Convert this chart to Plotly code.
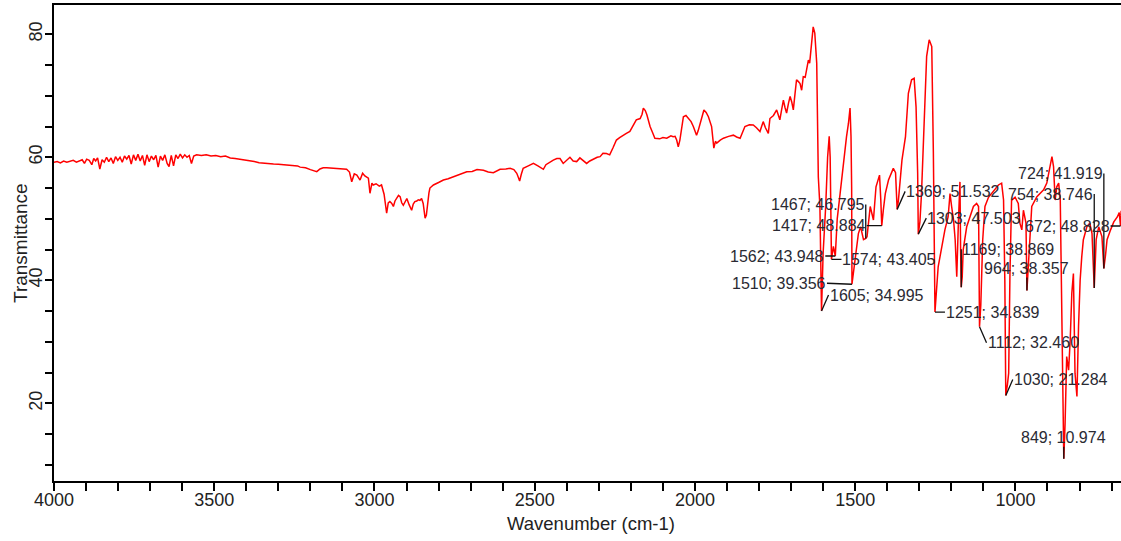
import plotly.graph_objects as go

# ---------------- data ----------------
wavenumber = [
    4000, 3990, 3980, 3970, 3960, 3950, 3940, 3930, 3920, 3912, 3905, 3898, 3890, 3882, 3876, 3870,
    3864, 3857, 3850, 3843, 3836, 3829, 3822, 3815, 3808, 3801, 3794, 3787, 3780, 3773, 3766, 3759,
    3752, 3745, 3738, 3731, 3724, 3717, 3710, 3703, 3696, 3689, 3682, 3675, 3668, 3661, 3654, 3647,
    3641, 3634, 3627, 3620, 3613, 3606, 3599, 3592, 3585, 3578, 3571, 3564, 3555, 3540, 3525, 3510,
    3495, 3480, 3465, 3450, 3435, 3420, 3405, 3390, 3375, 3360, 3345, 3330, 3315, 3300, 3285, 3270,
    3255, 3240, 3232, 3215, 3200, 3190, 3180, 3170, 3160, 3149, 3130, 3110, 3087, 3078, 3071, 3063,
    3055, 3045, 3037, 3030, 3019, 3014, 3008, 3004, 2995, 2985, 2978, 2970, 2962, 2957, 2952, 2946,
    2941, 2936, 2931, 2925, 2920, 2915, 2910, 2905, 2899, 2892, 2884, 2879, 2874, 2868, 2863, 2858,
    2853, 2848, 2842, 2838, 2834, 2830, 2827, 2816, 2800, 2785, 2770, 2754, 2740, 2725, 2712, 2695,
    2680, 2660, 2645, 2629, 2615, 2608, 2590, 2577, 2565, 2556, 2550, 2547, 2542, 2536, 2520, 2504,
    2490, 2478, 2473, 2465, 2452, 2442, 2431, 2421, 2411, 2400, 2390, 2380, 2369, 2359, 2348, 2338,
    2328, 2318, 2305, 2296, 2287, 2276, 2266, 2256, 2245, 2235, 2224, 2214, 2203, 2192, 2183, 2171,
    2165, 2161, 2155, 2150, 2140, 2132, 2125, 2110, 2100, 2088, 2075, 2068, 2062, 2057, 2052, 2047,
    2042, 2036, 2028, 2021, 2012, 2005, 1995, 1990, 1984, 1978, 1972, 1965, 1958, 1948, 1944, 1941,
    1936, 1932, 1921, 1911, 1895, 1880, 1870, 1859, 1852, 1844, 1830, 1818, 1808, 1797, 1792, 1787,
    1780, 1775, 1771, 1766, 1755, 1745, 1740, 1735, 1730, 1724, 1719, 1714, 1708, 1703, 1698, 1693,
    1688, 1683, 1677, 1672, 1667, 1662, 1656, 1651, 1646, 1642, 1637, 1631, 1626, 1620, 1615, 1610,
    1605, 1600, 1592, 1586, 1581, 1578, 1574, 1568, 1562, 1556, 1547, 1537, 1527, 1521, 1516, 1513,
    1511, 1510, 1505, 1501, 1490, 1483, 1474, 1467, 1463, 1453, 1443, 1435, 1424, 1420, 1417, 1412,
    1406, 1396, 1381, 1374, 1372, 1369, 1365, 1354, 1343, 1334, 1324, 1316, 1310, 1305, 1303, 1298,
    1293, 1287, 1282, 1277, 1269, 1261, 1256, 1251, 1241, 1230, 1220, 1210, 1204, 1199, 1193, 1188,
    1183, 1178, 1173, 1171, 1169, 1166, 1163, 1152, 1142, 1131, 1121, 1115, 1112, 1108, 1102, 1095,
    1084, 1069, 1053, 1043, 1037, 1033, 1030, 1025, 1021, 1017, 1012, 1001, 991, 986, 980, 975,
    967, 964, 960, 956, 949, 933, 923, 912, 902, 891, 886, 881, 876, 871, 865, 860,
    855, 849, 845, 840, 834, 829, 824, 819, 814, 808, 803, 798, 793, 788, 777, 768,
    761, 757, 754, 748, 740, 730, 726, 724, 719, 714, 703, 693, 682, 676, 672, 670,
]
transmittance = [
    59.2, 59.3, 59.1, 59.4, 59.2, 59.3, 59.5, 59.2, 59.4, 59.6, 59.0, 59.7, 59.5, 58.8, 59.8, 59.4,
    59.9, 58.1, 59.6, 59.2, 60.0, 59.3, 59.9, 59.0, 60.1, 59.5, 60.0, 59.2, 60.2, 59.7, 60.3, 58.9,
    60.4, 59.5, 60.5, 59.4, 60.3, 58.7, 60.4, 59.3, 60.2, 59.6, 60.3, 58.4, 60.2, 59.5, 60.4, 59.0,
    58.5, 60.3, 58.6, 60.4, 59.8, 60.5, 59.9, 60.4, 60.0, 60.3, 59.0, 60.2, 60.4, 60.3, 60.4, 60.2,
    60.3, 60.1, 60.2, 59.9, 59.8, 59.7, 59.6, 59.5, 59.3, 59.1, 59.0, 58.95, 58.9, 58.85, 58.8, 58.75,
    58.7, 58.6, 58.4, 58.3, 58.0, 57.8, 57.66, 58.1, 58.3, 58.3, 58.2, 58.1, 58.05, 57.6, 56.03, 57.3,
    57.1, 56.3, 57.4, 56.96, 56.6, 54.15, 55.8, 55.5, 55.7, 55.3, 55.5, 54.0, 50.9, 52.6, 52.8, 52.5,
    52.0, 52.9, 53.3, 53.8, 53.6, 52.6, 52.2, 52.8, 53.3, 52.3, 51.4, 52.4, 52.8, 52.9, 53.1, 53.0,
    53.3, 52.5, 50.1, 50.6, 53.1, 54.2, 55.0, 55.5, 55.9, 56.3, 56.5, 56.85, 57.1, 57.4, 57.66, 57.7,
    58.0, 57.9, 57.6, 57.5, 57.8, 58.05, 58.1, 58.2, 58.0, 57.4, 56.6, 56.15, 57.2, 58.2, 58.6, 59.0,
    58.6, 58.2, 58.05, 58.8, 59.3, 59.55, 59.8, 59.8, 59.0, 59.6, 60.0, 59.4, 59.3, 59.9, 59.5, 59.0,
    59.4, 59.7, 60.0, 60.1, 60.65, 60.6, 60.4, 61.5, 62.8, 63.2, 63.6, 63.9, 64.2, 65.25, 66.1, 66.3,
    67.0, 68.0, 67.6, 66.9, 65.0, 64.0, 63.1, 63.0, 63.2, 63.1, 63.5, 63.35, 63.4, 62.8, 61.7, 62.8,
    64.4, 66.6, 66.8, 66.3, 65.8, 65.0, 63.6, 64.3, 65.5, 66.8, 67.7, 67.3, 66.6, 65.0, 63.5, 61.5,
    62.6, 62.3, 62.8, 63.1, 63.4, 63.6, 63.3, 63.1, 64.0, 65.0, 65.3, 65.25, 64.8, 64.2, 65.0, 65.8,
    64.8, 64.3, 63.9, 66.3, 66.8, 67.7, 67.0, 66.1, 67.6, 69.3, 68.1, 67.2, 68.8, 69.9, 69.0, 67.7,
    70.2, 72.6, 72.3, 72.0, 70.9, 73.1, 73.0, 74.2, 75.8, 75.3, 78.5, 81.2, 80.2, 75.3, 56.8, 52.0,
    34.995, 44.4, 52.0, 60.0, 63.4, 60.0, 43.405, 45.5, 43.948, 50.0, 54.1, 59.0, 63.35, 65.5, 68.0, 63.35,
    55.0, 39.356, 41.5, 43.3, 47.6, 48.7, 46.6, 46.795, 47.1, 52.0, 49.8, 55.2, 57.1, 53.0, 48.884, 51.5,
    54.1, 56.3, 58.2, 57.5, 54.5, 51.532, 53.0, 59.55, 63.35, 70.4, 72.6, 72.85, 68.2, 57.4, 47.503, 49.5,
    54.1, 63.35, 70.4, 76.4, 79.1, 78.0, 60.65, 34.839, 42.2, 45.5, 48.2, 50.3, 54.1, 52.0, 49.8, 46.6,
    40.6, 49.3, 56.0, 45.0, 38.869, 40.5, 44.9, 48.7, 50.3, 52.0, 52.5, 52.0, 32.46, 36.0, 46.6, 52.0,
    53.5, 54.5, 55.5, 55.8, 53.05, 40.0, 21.284, 23.0, 24.9, 41.1, 53.0, 53.5, 52.5, 49.3, 48.2, 51.4,
    49.3, 38.357, 42.0, 47.6, 52.0, 53.6, 54.1, 54.7, 55.8, 58.5, 60.1, 58.5, 53.05, 55.2, 55.8, 53.05,
    29.2, 10.974, 16.7, 27.6, 25.4, 30.3, 37.9, 41.1, 24.9, 21.1, 32.5, 40.0, 43.8, 46.6, 48.7, 49.3,
    47.6, 43.8, 38.746, 46.6, 48.7, 47.1, 43.8, 41.919, 44.0, 46.6, 48.2, 49.5, 50.3, 51.0, 48.828, 51.3,
]

peak_wn = [1467, 1417, 1562, 1574, 1510, 1605, 1369, 1303, 1251, 1169,
           1112, 1030, 849, 964, 754, 724, 672]
peak_tr = [46.795, 48.884, 43.948, 43.405, 39.356, 34.995, 51.532, 47.503, 34.839, 38.869,
           32.460, 21.284, 10.974, 38.357, 38.746, 41.919, 48.828]

x_title = "Wavenumber (cm-1)"
y_title = "Transmittance"

# ---------------- label placement (pixel offsets, styling only) ----------------
label_style = {
    1467: (0, -34, "right"),
    1417: (-15, 0, "right"),
    1562: (-10, 0, "right"),
    1574: (10, 0, "left"),
    1510: (-25, -1, "right"),
    1605: (7, -16, "left"),
    1369: (8, -18, "left"),
    1303: (8, -16, "left"),
    1251: (10, 0, "left"),
    1169: (0, -38, "left"),
    1112: (7, 16, "left"),
    1030: (7, -16, "left"),
    849: (0, -21, "center"),
    964: (0, -22, "center"),
    754: (0, -94, "right"),
    724: (0, -95, "right"),
    672: (-10, 0, "right"),
}

FONT = "Liberation Sans, Arial, sans-serif"

fig = go.Figure()
fig.add_trace(go.Scatter(
    x=wavenumber, y=transmittance, mode="lines",
    line=dict(color="#ff0000", width=1.5),
    hoverinfo="x+y", showlegend=False,
))

annotations = []
for wn, tr in zip(peak_wn, peak_tr):
    ax, ay, anchor = label_style[wn]
    annotations.append(dict(
        x=wn, y=tr, xref="x", yref="y",
        text=f"{wn}; {tr:.3f}",
        showarrow=True, arrowhead=0, arrowwidth=1.3, arrowcolor="#111111",
        ax=ax, ay=ay, xanchor=anchor, yanchor="middle",
        standoff=0, startstandoff=0, borderpad=0,
        font=dict(family=FONT, size=16, color="#2a2a33"),
    ))

# axis titles
annotations.append(dict(
    text=x_title, xref="paper", yref="paper", x=0.5, y=0,
    xanchor="center", yanchor="middle", yshift=-42, xshift=3, showarrow=False,
    font=dict(family=FONT, size=18.5, color="#222222"),
))
annotations.append(dict(
    text=y_title, xref="paper", yref="paper", x=0, y=0.5,
    xanchor="center", yanchor="middle", xshift=-34, showarrow=False, textangle=-90,
    font=dict(family=FONT, size=19, color="#222222"),
))

fig.update_layout(
    width=1121, height=541,
    margin=dict(l=54, r=0, t=5, b=60, autoexpand=False),
    paper_bgcolor="white", plot_bgcolor="white",
    annotations=annotations,
    showlegend=False,
)
fig.update_xaxes(
    range=[4000, 670.5], autorange=False, automargin=False,
    showgrid=False, zeroline=False,
    showline=True, linecolor="black", linewidth=1.5, mirror=True,
    ticks="outside", ticklen=8, tickwidth=1.5, tickcolor="black",
    dtick=500, tick0=0, ticklabelstandoff=-6,
    minor=dict(dtick=100, tick0=0, ticks="outside", ticklen=8, tickwidth=1.5, tickcolor="black", showgrid=False),
    tickfont=dict(family=FONT, size=18, color="#222222"),
)
fig.update_yaxes(
    range=[7.37, 84.76], autorange=False, automargin=False,
    showgrid=False, zeroline=False,
    showline=True, linecolor="black", linewidth=1.5, mirror=False,
    ticks="outside", ticklen=7, tickwidth=1.5, tickcolor="black",
    dtick=20, tick0=0, tickangle=-90, ticklabelstandoff=-4,
    minor=dict(dtick=5, tick0=0, ticks="outside", ticklen=7, tickwidth=1.5, tickcolor="black", showgrid=False),
    tickfont=dict(family=FONT, size=18, color="#222222"),
)

fig.write_html(
    "out.html",
    config={"displayModeBar": False},
    post_script="document.body.style.margin='0px';document.body.style.padding='0px';",
)
